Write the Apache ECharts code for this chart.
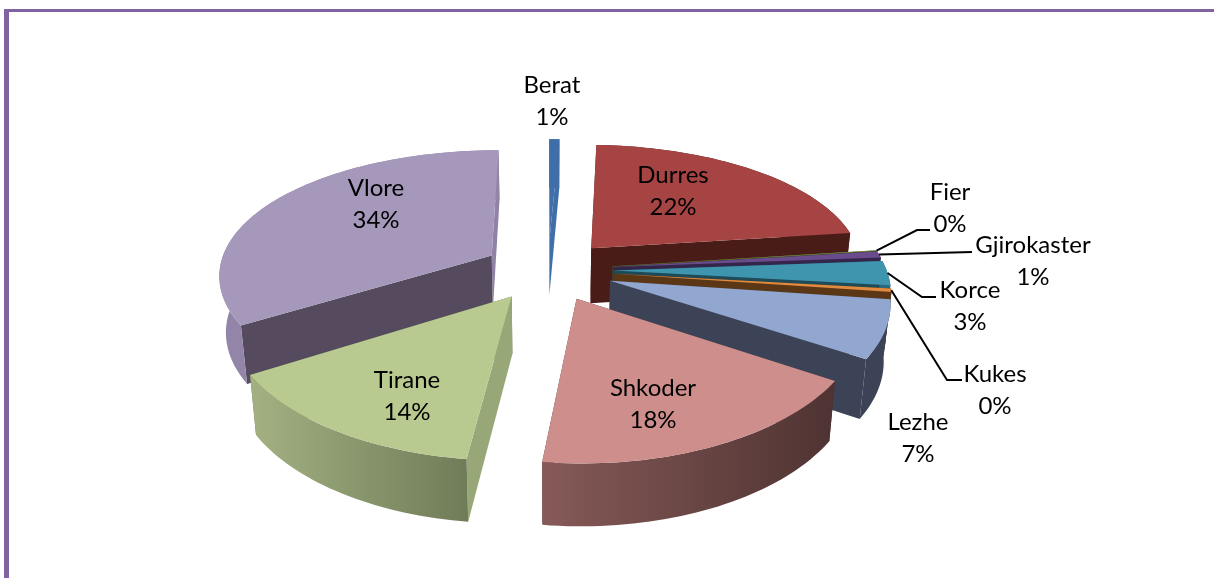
<!DOCTYPE html>
<html>
<head>
<meta charset="utf-8">
<title>Pie</title>
<style>
html,body{margin:0;padding:0;background:#fff}
#main{width:1214px;height:578px}
</style>
<script src="https://cdn.jsdelivr.net/npm/echarts@6/dist/echarts.min.js"></script>
</head>
<body>
<div id="main"></div>
<script>
// values, in pie order, clockwise from 12 o'clock
var names = ['Berat','Durres','Fier','Gjirokaster','Korce','Kukes','Lezhe','Shkoder','Tirane','Vlore'];
var values = [0.7,22.25,0.05,0.8,3,0.4,7,17.7,14.3,33.8];

// back to front
var drawOrder = [9,0,1,2,3,4,5,6,8,7];

// top, start wall, end wall, outer wall left, outer wall right
var topColors = ['#3f6ea8','#a54442','#8aa34e','#6a4c8c','#3f95ae','#e08a3e','#91a7cf','#ce8e8c','#b9ca90','#a598bb'];
var startWalls = ['#3f6ea8','#4a1c18','#4a5a28','#33264a','#1f4a58','#5b3716','#3c4356','#4e3534','#98a778','#564b5e'];
var endWalls = ['#3f6ea8','#4a1c18','#4a5a28','#33264a','#1f4a58','#5b3716','#3c4356','#4e3534','#6f7c58','#8f82a5'];
var outerLeft = ['#3f6ea8','#4a1c18','#4a5a28','#33264a','#2a6a7e','#5b3716','#3c4356','#865a58','#a3b182','#9385a8'];
var outerRight = ['#3f6ea8','#4a1c18','#4a5a28','#33264a','#2a6a7e','#5b3716','#3c4356','#4e3332','#6f7c58','#9385a8'];

// projection of the tilted pie
var cx = 548, cy = 270, fx = 273, fy = 127, perspX = 0.14, perspY = 0.165, explode = 0.24, depth = 56;

// label centres and leader elbows
var labelAt = {
	Berat:[552,101], Durres:[673,191], Fier:[950,208], Gjirokaster:[1033,261], Korce:[970,306],
	Kukes:[995,390], Lezhe:[918,438], Shkoder:[653,404], Tirane:[407,396], Vlore:[376,204]
};
var leaders = {
	Fier:[[917,230],[930,230]],
	Gjirokaster:[[972,252]],
	Korce:[[922,297],[936,297]],
	Kukes:[[947,380],[962,380]]
};

var total = values.reduce(function(a,b){return a+b;},0);
var angles = [];
var sum = 0;
for(var i=0;i<values.length;i++){
	var a0 = sum/total*Math.PI*2;
	sum += values[i];
	angles.push([a0,sum/total*Math.PI*2]);
}

function project(a,b,low){
	var x = cx+fx*a/(1-b*perspX), y = cy+fy*b/(1-b*perspY);
	if(low){
		x = cx+(x-cx)*0.98;
		y += depth*(1+b*0.1);
	}
	return [x,y];
}
function apex(i){
	var m = (angles[i][0]+angles[i][1])/2;
	return [explode*Math.sin(m),-explode*Math.cos(m)];
}
function rim(i,t){
	var p = apex(i);
	return [p[0]+Math.sin(t),p[1]-Math.cos(t)];
}
function quad(p,q,color,z){
	return {type:'polygon',z2:z,shape:{points:[project(p[0],p[1]),project(q[0],q[1]),project(q[0],q[1],true),project(p[0],p[1],true)]},style:{fill:color}};
}

function renderSlice(params){
	var i = drawOrder[params.dataIndex];
	var z = params.dataIndex*10;
	var t0 = angles[i][0], t1 = angles[i][1];
	var c = apex(i);
	var n = Math.max(2,Math.ceil((t1-t0)/(Math.PI/120)));
	var upper = [], lower = [], face = [project(c[0],c[1])];
	for(var k=0;k<=n;k++){
		var r = rim(i,t0+(t1-t0)*k/n);
		upper.push(project(r[0],r[1]));
		lower.unshift(project(r[0],r[1],true));
		face.push(project(r[0],r[1]));
	}
	return {type:'group',children:[
		quad(c,rim(i,t1),endWalls[i],z),
		quad(c,rim(i,t0),startWalls[i],z+1),
		{type:'polygon',z2:z+2,shape:{points:upper.concat(lower)},style:{fill:{type:'linear',x:0,y:0,x2:1,y2:0,colorStops:[{offset:0,color:outerLeft[i]},{offset:1,color:outerRight[i]}]}}},
		{type:'polygon',z2:z+3,shape:{points:face},style:{fill:topColors[i]}}
	]};
}

function renderLabel(params){
	var i = params.dataIndex;
	var name = names[i];
	var at = labelAt[name];
	var kids = [{type:'text',z2:300,style:{
		text:name+'\n'+Math.round(values[i]/total*100)+'%',
		x:at[0],y:at[1],textAlign:'center',textVerticalAlign:'middle',
		fontFamily:'Lato',fontSize:24,lineHeight:32,fill:'#000'
	}}];
	if(leaders[name]){
		var r = rim(i,(angles[i][0]+angles[i][1])/2);
		kids.push({type:'polyline',z2:299,shape:{points:[project(r[0],r[1])].concat(leaders[name])},style:{stroke:'#000',lineWidth:2,fill:null}});
	}
	return {type:'group',children:kids};
}

var myChart = echarts.init(document.getElementById('main'),null,{renderer:'canvas'});
myChart.setOption({
	backgroundColor:'#fff',
	animation:false,
	graphic:[
		{type:'rect',z:0,shape:{x:4,y:9,width:1210,height:3},style:{fill:'#8064a2'}},
		{type:'rect',z:0,shape:{x:4,y:9,width:5,height:569},style:{fill:'#8064a2'}}
	],
	series:[{
		type:'custom',
		coordinateSystem:'none',
		renderItem:renderSlice,
		data:drawOrder.map(function(d){return values[d];}),
		silent:true
	},{
		type:'custom',
		coordinateSystem:'none',
		renderItem:renderLabel,
		data:values,
		silent:true,
		z:5
	}]
});
</script>
</body>
</html>
